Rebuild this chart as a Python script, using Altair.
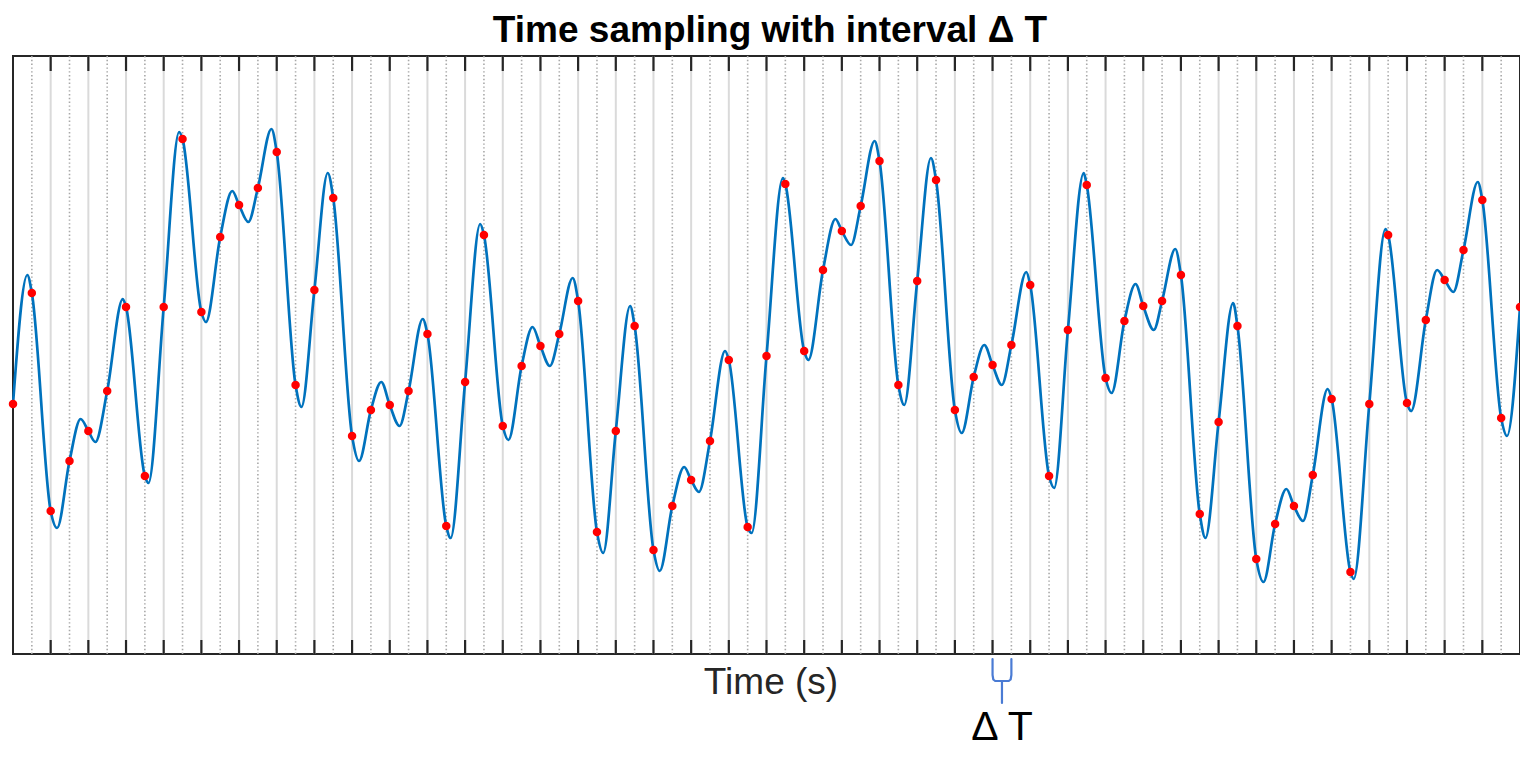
import altair as alt
import pandas as pd

# ---------------- data ----------------
DT = 0.1  # sampling interval (s)

# red sample points, one per interval DT, starting at t = 0
sample_values = [
    -0.49, 0.62, -1.56, -1.06, -0.76, -0.36, 0.48, -1.21, 0.48, 2.16,
    0.43, 1.18, 1.50, 1.67, 2.03, -0.30, 0.65, 1.57, -0.81, -0.55,
    -0.50, -0.36, 0.21, -1.71, -0.27, 1.20, -0.71, -0.11, 0.09, 0.21,
    0.54, -1.77, -0.76, 0.29, -1.95, -1.51, -1.25, -0.86, -0.05, -1.72,
    -0.01, 1.71, 0.04, 0.85, 1.24, 1.49, 1.94, -0.30, 0.74, 1.75,
    -0.55, -0.22, -0.10, 0.10, 0.70, -1.21, 0.25, 1.70, -0.23, 0.34,
    0.49, 0.54, 0.80, -1.59, -0.67, 0.29, -2.04, -1.69, -1.51, -1.20,
    -0.44, -2.17, -0.49, 1.20, -0.48, 0.35, 0.75, 1.05, 1.55, -0.63,
    0.48,
]
sample_times = [round(i * DT, 1) for i in range(len(sample_values))]

# local maxima / minima of the continuous signal (between the samples)
extrema_times = [
    0.076, 0.234, 0.359, 0.437, 0.583, 0.719, 0.882, 1.024, 1.164, 1.249,
    1.372, 1.531, 1.671, 1.837, 1.955, 2.052, 2.175, 2.323, 2.480, 2.630,
    2.758, 2.850, 2.971, 3.133, 3.276, 3.433, 3.563, 3.641, 3.780, 3.921,
    4.087, 4.222, 4.366, 4.449, 4.574, 4.731, 4.873, 5.036, 5.156, 5.249,
    5.379, 5.527, 5.684, 5.832, 5.959, 6.056, 6.170, 6.330, 6.477, 6.638,
    6.760, 6.848, 6.979, 7.117, 7.286, 7.422, 7.560, 7.646, 7.776, 7.931,
]
extrema_values = [
    0.80, -1.73, -0.64, -0.87, 0.56, -1.28, 2.23, 0.33, 1.64, 1.33,
    2.26, -0.52, 1.82, -1.06, -0.27, -0.71, 0.36, -1.83, 1.31, -0.85,
    0.28, -0.11, 0.77, -1.98, 0.49, -2.16, -1.12, -1.37, 0.04, -1.78,
    1.77, -0.05, 1.36, 1.10, 2.14, -0.50, 1.97, -0.78, 0.10, -0.30,
    0.83, -1.33, 1.82, -0.38, 0.71, 0.25, 1.06, -1.83, 0.52, -2.27,
    -1.34, -1.66, -0.34, -2.24, 1.26, -0.56, 0.85, 0.63, 1.73, -0.81,
]

major_ticks = [round(0.2 * k, 1) for k in range(1, 40)]      # solid grid + ticks
minor_grid = [round(0.1 * (2 * k + 1), 1) for k in range(40)]  # dotted grid

# Delta-T bracket annotation below the axis (data units)
bracket_x = [5.2, 5.2, 5.204, 5.214, 5.286, 5.296, 5.3, 5.3, 5.25, 5.25]
bracket_y = [-3.04, -3.20, -3.245, -3.26, -3.26, -3.245, -3.20, -3.04, -3.26, -3.48]
bracket_part = ["arm"] * 8 + ["stem"] * 2

title_text = "Time sampling with interval Δ T"
xlabel_text = "Time (s)"
delta_text = "Δ T"

# ---------------- tables ----------------
samples_df = pd.DataFrame({"t": sample_times, "v": sample_values})
curve_df = pd.concat([
    samples_df,
    pd.DataFrame({"t": extrema_times, "v": extrema_values}),
]).sort_values("t").reset_index(drop=True)
major_df = pd.DataFrame({"t": major_ticks})
minor_df = pd.DataFrame({"t": minor_grid})
bracket_df = pd.DataFrame({"t": bracket_x, "v": bracket_y, "part": bracket_part,
                           "k": list(range(len(bracket_x)))})

W, H = 1507, 598
xs = alt.Scale(domain=[0, 8], nice=False, zero=False)
ys = alt.Scale(domain=[-2.99, 2.99], nice=False, zero=False)
X = alt.X("t:Q", scale=xs, axis=None)
Y = alt.Y("v:Q", scale=ys, axis=None)
FONT = "Liberation Sans"

grid_major = alt.Chart(major_df).mark_rule(color="#dadada", strokeWidth=2).encode(x=X)
grid_minor = alt.Chart(minor_df).mark_rule(
    color="#a8a8a8", strokeWidth=1.6, strokeDash=[1.4, 2.4]).encode(x=X)

curve = alt.Chart(curve_df).mark_line(
    color="#0072BD", strokeWidth=2.7, interpolate="monotone").encode(x=X, y=Y)
dots = alt.Chart(samples_df).mark_circle(
    color="#FF0000", size=72, opacity=1).encode(x=X, y=Y)

ticks_top = alt.Chart(major_df).mark_rule(color="#262626", strokeWidth=2.2).encode(
    x=X, y=alt.value(0), y2=alt.value(15))
ticks_bot = alt.Chart(major_df).mark_rule(color="#262626", strokeWidth=2.2).encode(
    x=X, y=alt.value(H - 14), y2=alt.value(H))

bracket = alt.Chart(bracket_df).mark_line(
    color="#4A7BD4", strokeWidth=2.2, strokeCap="round", strokeJoin="round").encode(
    x=X, y=Y, detail="part:N", order="k:Q")

title = alt.Chart(pd.DataFrame({"s": [title_text]})).mark_text(
    font=FONT, fontSize=37, fontWeight="bold", color="#000000",
    baseline="alphabetic", align="center").encode(
    text="s:N", x=alt.value(757), y=alt.value(-14))
xlabel = alt.Chart(pd.DataFrame({"s": [xlabel_text]})).mark_text(
    font=FONT, fontSize=37, color="#262626",
    baseline="alphabetic", align="center").encode(
    text="s:N", x=alt.value(758), y=alt.value(638))
delta = alt.Chart(pd.DataFrame({"s": [delta_text]})).mark_text(
    font=FONT, fontSize=41, color="#000000",
    baseline="alphabetic", align="center").encode(
    text="s:N", x=alt.value(989), y=alt.value(684))

chart = alt.layer(
    grid_major, grid_minor, curve, dots, ticks_top, ticks_bot, bracket,
    title, xlabel, delta,
).properties(
    width=W, height=H,
    autosize=alt.AutoSizeParams(type="none"),
    padding={"left": 5, "top": 48, "right": 0, "bottom": 95},
    background="#ffffff",
).configure_view(stroke="#262626", strokeWidth=2)

chart.save("out.html", embed_options={"renderer": "svg", "actions": False})
